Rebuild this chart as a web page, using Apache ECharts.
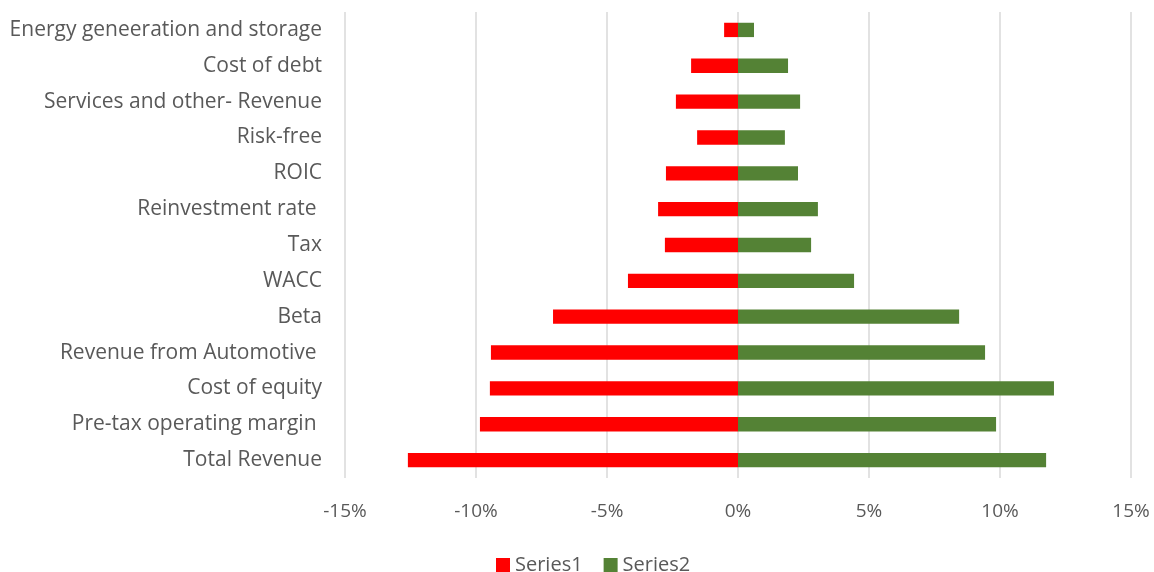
<!DOCTYPE html>
<html>
<head>
<meta charset="utf-8">
<script src="https://cdn.jsdelivr.net/npm/echarts@6/dist/echarts.min.js"></script>
<style>
  html, body { margin: 0; padding: 0; background: #fff; }
  #main { width: 1154px; height: 572px; }
</style>
</head>
<body>
<div id="main"></div>
<script>
// categories, bottom to top (category axis draws first item at the bottom)
var categories = [
    'Total Revenue',
    'Pre-tax operating margin ',
    'Cost of equity',
    'Revenue from Automotive ',
    'Beta',
    'WACC',
    'Tax',
    'Reinvestment rate ',
    'ROIC',
    'Risk-free',
    'Services and other- Revenue',
    'Cost of debt',
    'Energy geneeration and storage'
];
// values in percent
var series1 = [-12.6, -9.85, -9.47, -9.43, -7.06, -4.2, -2.79, -3.05, -2.75, -1.56, -2.37, -1.79, -0.53];
var series2 = [11.76, 9.85, 12.06, 9.43, 8.44, 4.43, 2.79, 3.05, 2.29, 1.79, 2.37, 1.91, 0.61];

var textColor = '#595959';
var font = 'Open Sans';

var chart = echarts.init(document.getElementById('main'));
chart.setOption({
    animation: false,
    textStyle: { fontFamily: font },
    grid: { left: 345, right: 23, top: 12, bottom: 94, containLabel: false },
    legend: {
        top: 550,
        left: 491,
        itemWidth: 14,
        itemHeight: 14,
        itemGap: 21,
        icon: 'rect',
        textStyle: { color: textColor, fontSize: 20, fontFamily: font },
        data: ['Series1', 'Series2']
    },
    xAxis: {
        type: 'value',
        min: -15,
        max: 15,
        interval: 5,
        axisLine: { show: false },
        axisTick: { show: false },
        splitLine: { lineStyle: { color: '#d9d9d9', width: 1.5 } },
        axisLabel: {
            color: textColor,
            fontSize: 19,
            margin: 24,
            formatter: function (v) { return v + '%'; }
        }
    },
    yAxis: {
        type: 'category',
        data: categories,
        axisLine: { show: false },
        axisTick: { show: false },
        axisLabel: { color: textColor, fontSize: 21, margin: 23, padding: [5, 0, 0, 0] }
    },
    series: [
        {
            name: 'Series1',
            type: 'bar',
            data: series1,
            barWidth: '40%',
            barGap: '-100%',
            itemStyle: { color: '#ff0000' }
        },
        {
            name: 'Series2',
            type: 'bar',
            data: series2,
            barWidth: '40%',
            itemStyle: { color: '#548235' }
        }
    ]
});
</script>
</body>
</html>
